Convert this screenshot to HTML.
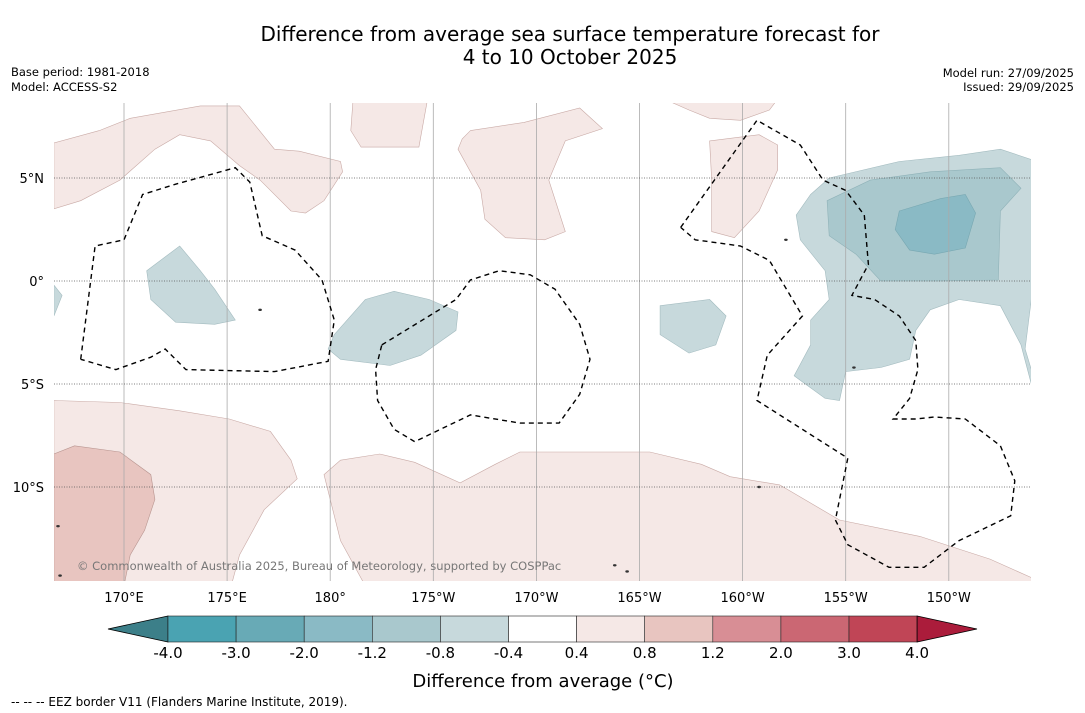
<!DOCTYPE html>
<html><head><meta charset="utf-8">
<style>
body{margin:0;background:#fff;font-family:"DejaVu Sans","Liberation Sans",sans-serif;}
svg{display:block}
</style></head>
<body>
<svg id="chart" width="1085" height="713" viewBox="0 0 1085 713" font-family="DejaVu Sans, Liberation Sans, sans-serif">
<text x="570" y="41" font-size="20" text-anchor="middle" fill="#000">Difference from average sea surface temperature forecast for</text>
<text x="570" y="64" font-size="20" text-anchor="middle" fill="#000">4 to 10 October 2025</text>
<text x="11" y="76" font-size="11.5">Base period: 1981-2018</text>
<text x="11" y="91" font-size="11.5">Model: ACCESS-S2</text>
<text x="1074" y="77" font-size="11.5" text-anchor="end">Model run: 27/09/2025</text>
<text x="1074" y="91" font-size="11.5" text-anchor="end">Issued: 29/09/2025</text>
<defs><clipPath id="mapclip"><rect x="54" y="103" width="977" height="478"/></clipPath></defs>
<g id="map" clip-path="url(#mapclip)"></g>
<g id="grid"></g>
<g id="eez"></g>
<text x="77" y="570" font-size="11.5" fill="#777">© Commonwealth of Australia 2025, Bureau of Meteorology, supported by COSPPac</text>
<g id="axes"></g>
<g id="cbar"></g>
<text x="543" y="687" font-size="18" text-anchor="middle">Difference from average (°C)</text>
<text x="11" y="706" font-size="12">--  --  -- EEZ border V11 (Flanders Marine Institute, 2019).</text>
</svg>
<script>
const lonTicks=[170,175,180,185,190,195,200,205,210];
const lonLabels=["170°E","175°E","180°","175°W","170°W","165°W","160°W","155°W","150°W"];
const latTicks=[5,0,-5,-10];
const latLabels=["5°N","0°","5°S","10°S"];
const cbarLabels=["-4.0","-3.0","-2.0","-1.2","-0.8","-0.4","0.4","0.8","1.2","2.0","3.0","4.0"];
const cbarColors=["#4aa3b2","#68aab6","#8abac5","#a9c8cd","#c7d9dc","#ffffff","#f5e8e6","#e8c5c0","#d88e95","#cb6773","#c04556"];
const lowColor="#3c7f89", highColor="#ab1c3b";
const pinkRegions=[
 [[166.6,6.7],[168.8,7.3],[170.3,7.9],[173.7,8.5],[175.6,8.5],[177.3,6.4],[178.5,6.3],[180.5,5.8],[180.6,5.3],[179.7,3.9],[178.8,3.3],[178.1,3.4],[176.6,4.9],[175.6,5.6],[174.2,6.8],[172.7,7.1],[171.5,6.4],[169.8,4.9],[167.9,3.9],[166.6,3.5]],
 [[181.1,8.7],[184.7,8.7],[184.3,6.5],[181.5,6.5],[181.0,7.3]],
 [[186.8,7.3],[189.4,7.7],[192.1,8.4],[193.2,7.4],[191.4,6.8],[190.6,4.9],[191.4,2.4],[190.4,2.0],[188.5,2.1],[187.5,3.0],[187.3,4.4],[186.2,6.4],[186.4,6.9]],
 [[196.5,8.7],[201.6,8.7],[201.3,8.3],[199.9,7.8],[198.4,7.9],[197.4,8.3]],
 [[198.4,6.8],[200.8,7.1],[201.7,6.6],[201.7,5.4],[200.8,3.4],[199.6,2.1],[198.5,2.4],[198.5,4.9]],
 [[166.6,-5.8],[169.8,-5.9],[172.7,-6.3],[175.1,-6.7],[177.1,-7.3],[178.1,-8.7],[178.4,-9.6],[176.8,-11.1],[175.6,-13.3],[175.2,-14.8],[166.6,-14.8]],
 [[180.5,-8.7],[182.4,-8.4],[184.1,-8.8],[186.3,-9.8],[188.0,-8.9],[189.2,-8.3],[195.5,-8.3],[198.0,-8.9],[199.4,-9.5],[201.8,-9.9],[204.7,-11.6],[208.6,-12.4],[212.0,-13.5],[214.0,-14.4],[214.0,-14.8],[181.7,-14.8],[180.5,-12.6],[179.7,-9.4]]
];
const pinkDark=[[[166.6,-8.4],[167.6,-8.0],[169.8,-8.3],[171.3,-9.4],[171.5,-10.6],[171.0,-12.1],[170.3,-13.3],[170.0,-14.8],[166.6,-14.8]]];
const blueLight=[
 [[171.1,0.5],[172.7,1.7],[173.7,0.5],[174.4,-0.4],[175.4,-1.9],[174.4,-2.1],[172.5,-2.0],[171.3,-0.9]],
 [[166.6,-0.2],[167.0,-0.7],[166.6,-1.7]],
 [[180.2,-2.6],[181.7,-0.9],[183.1,-0.5],[184.8,-0.9],[186.2,-1.5],[186.1,-2.4],[184.4,-3.6],[182.9,-4.1],[180.5,-3.8],[179.9,-3.3]],
 [[196.0,-1.2],[198.4,-0.9],[199.2,-1.7],[198.7,-3.1],[197.4,-3.5],[196.0,-2.6]],
 [[204.2,5.0],[207.6,5.8],[210.5,6.1],[212.5,6.4],[214.0,5.9],[214.0,-0.9],[213.7,-3.3],[214.0,-4.3],[214.0,-5.0],[213.5,-3.1],[212.5,-1.2],[210.5,-0.9],[209.1,-1.4],[208.4,-2.4],[208.1,-3.8],[206.7,-4.2],[205.0,-4.4],[204.7,-5.8],[204.0,-5.7],[202.5,-4.6],[203.3,-3.1],[203.3,-1.9],[204.2,-0.9],[204.0,0.5],[202.8,2.0],[202.6,3.2],[203.3,4.2]]
];
const blueMid=[[[204.1,3.9],[206.2,4.9],[209.1,5.3],[212.5,5.5],[213.5,4.5],[212.5,3.4],[212.4,0.05],[209.6,0],[206.7,0],[205.5,1.3],[204.2,2.2]]];
const blueDark=[[[207.6,3.4],[209.6,4.0],[210.8,4.2],[211.3,3.3],[210.8,1.6],[209.3,1.3],[208.1,1.5],[207.4,2.5]]];
const eezLines=[
 [[167.9,-3.8],[168.6,1.7],[170.0,2.0],[170.9,4.2],[172.5,4.7],[175.4,5.5],[176.1,4.8],[176.7,2.2],[178.3,1.5],[179.6,0.05],[180.2,-1.9],[179.9,-3.9],[177.3,-4.4],[173.0,-4.3],[172.0,-3.3],[171.3,-3.7],[169.6,-4.3],[167.9,-3.8]],
 [[182.5,-3.1],[186.1,-0.9],[186.8,0.05],[188.2,0.5],[189.7,0.3],[190.9,-0.4],[192.1,-2.1],[192.6,-3.8],[192.1,-5.5],[191.1,-6.9],[189.2,-6.9],[186.8,-6.5],[184.1,-7.8],[183.1,-7.2],[182.3,-5.8],[182.2,-4.3],[182.5,-3.1]],
 [[197.0,2.6],[200.7,7.8],[202.8,6.6],[203.9,4.9],[205.0,4.4],[205.9,3.2],[206.1,0.8],[205.3,-0.7],[206.4,-0.9],[207.6,-1.7],[208.4,-2.9],[208.5,-4.3],[208.1,-5.7],[207.3,-6.7],[208.4,-6.7],[209.3,-6.6],[210.8,-6.7],[212.5,-8.0],[213.2,-9.7],[213.0,-11.4],[210.5,-12.6],[208.8,-13.9],[207.1,-13.9],[205.1,-12.8],[204.5,-11.6],[205.1,-8.6],[200.7,-5.8],[201.2,-3.6],[202.9,-1.7],[201.3,1.0],[199.9,1.7],[197.7,2.0],[197.0,2.6]]
];
const islands=[[193.8,-13.8],[194.4,-14.1],[166.9,-14.3],[166.8,-11.9],[176.6,-1.4],[200.8,-10.0],[205.4,-4.2],[202.1,2.0]];

const NS="http://www.w3.org/2000/svg";
function xs(lon){return 124+(lon-170)*20.62;}
function ys(lat){return 281-lat*20.6;}
function mk(tag,attrs,parent){const e=document.createElementNS(NS,tag);for(const k in attrs)e.setAttribute(k,attrs[k]);parent.appendChild(e);return e;}
function pts(p){return p.map(q=>xs(q[0]).toFixed(1)+","+ys(q[1]).toFixed(1)).join(" ");}
const map=document.getElementById('map');
function drawPolys(list,fill,stroke,name){
 list.forEach(p=>{const e=mk('polygon',{points:pts(p),fill:fill,stroke:stroke,'stroke-width':0.6},map);
 
 });
}
drawPolys(pinkRegions,"#f5e8e6","#c9aaa6","warm-anomaly-region");
drawPolys(pinkDark,"#e8c5c0","#b89590","warm-anomaly-region-strong");
drawPolys(blueLight,"#c7d9dc","#a4bcc0","cool-anomaly-region");
drawPolys(blueMid,"#a9c8cd","#8fb2b8","cool-anomaly-region-mid");
drawPolys(blueDark,"#8abac5","#78a8b2","cool-anomaly-region-strong");
islands.forEach(p=>{const e=mk('ellipse',{cx:xs(p[0]),cy:ys(p[1]),rx:1.8,ry:1.2,fill:"#333"},map);
 
 });
const grid=document.getElementById('grid');
lonTicks.forEach(l=>{const e=mk('line',{x1:xs(l),x2:xs(l),y1:103,y2:581,stroke:"#aaa","stroke-width":0.8},grid);
 
 });
latTicks.forEach(l=>{const e=mk('line',{x1:54,x2:1031,y1:ys(l),y2:ys(l),stroke:"#555","stroke-width":0.7,"stroke-dasharray":"1,1.5"},grid);
 
 });
const eez=document.getElementById('eez');
eezLines.forEach(p=>{const e=mk('polyline',{points:pts(p),fill:"none",stroke:"#000","stroke-width":1.4,"stroke-dasharray":"5,4"},eez);
 
 });
const axes=document.getElementById('axes');
lonTicks.forEach((l,i)=>{const t=mk('text',{x:xs(l),y:602,"font-size":13,"text-anchor":"middle"},axes);t.textContent=lonLabels[i];
 
 });
latTicks.forEach((l,i)=>{const t=mk('text',{x:44,y:ys(l)+5,"font-size":13,"text-anchor":"end"},axes);t.textContent=latLabels[i];
 
 });
const cb=document.getElementById('cbar');
const cx0=168,cw=68.1,cy0=616,ch=26;
let e=mk('polygon',{points:`108,${cy0+ch/2} ${cx0},${cy0} ${cx0},${cy0+ch}`,fill:lowColor,stroke:"#000","stroke-width":0.8},cb);


cbarColors.forEach((c,i)=>{const r=mk('rect',{x:cx0+i*cw,y:cy0,width:cw,height:ch,fill:c,stroke:"#222","stroke-width":0.6},cb);
 
 });
const xe=cx0+cbarColors.length*cw;
e=mk('polygon',{points:`${xe},${cy0} 977,${cy0+ch/2} ${xe},${cy0+ch}`,fill:highColor,stroke:"#000","stroke-width":0.8},cb);


cbarLabels.forEach((s,i)=>{const t=mk('text',{x:cx0+i*cw,y:658,"font-size":15,"text-anchor":"middle"},cb);t.textContent=s;
 
 });
</script>
</body></html>
